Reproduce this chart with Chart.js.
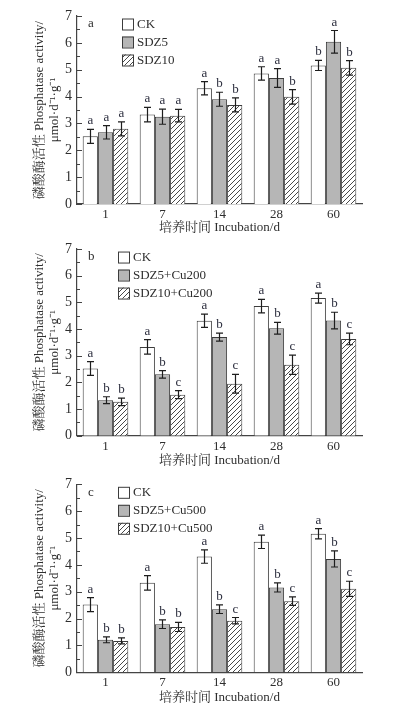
<!DOCTYPE html>
<html><head><meta charset="utf-8">
<script src="https://cdn.jsdelivr.net/npm/chart.js@4.4.1/dist/chart.umd.min.js"></script>
<style>
body{margin:0;background:#fff;width:393px;height:709px;overflow:hidden;position:relative}
.p{position:absolute;left:0;width:393px}
canvas{display:block}
</style>
</head><body>
<div class="p" style="top:0"><canvas id="ca" width="393" height="236"></canvas></div>
<div class="p" style="top:236px"><canvas id="cb" width="393" height="234"></canvas></div>
<div class="p" style="top:470px"><canvas id="cc" width="393" height="239"></canvas></div>
<script>
// ---------- data ----------
const categories = ['1', '7', '14', '28', '60'];
const yTickValues = [0, 1, 2, 3, 4, 5, 6, 7];

const ckValues = [2.52, 3.33, 4.31, 4.86, 5.16];
const ckErrors = [0.26, 0.27, 0.25, 0.25, 0.19];

// panel a
const legendA = ['CK', 'SDZ5', 'SDZ10'];
const ckLettersA = ['a', 'a', 'a', 'a', 'b'];
const sdz5Values = [2.67, 3.25, 3.9, 4.69, 6.04];
const sdz5Errors = [0.25, 0.28, 0.26, 0.35, 0.42];
const sdz5Letters = ['a', 'a', 'b', 'a', 'a'];
const sdz10Values = [2.8, 3.29, 3.69, 3.99, 5.07];
const sdz10Errors = [0.26, 0.23, 0.26, 0.27, 0.27];
const sdz10Letters = ['a', 'a', 'b', 'b', 'b'];

// panel b
const legendB = ['CK', 'SDZ5+Cu200', 'SDZ10+Cu200'];
const ckLettersB = ['a', 'a', 'a', 'a', 'a'];
const sdz5Cu200Values = [1.33, 2.3, 3.7, 4.03, 4.32];
const sdz5Cu200Errors = [0.13, 0.14, 0.15, 0.22, 0.31];
const sdz5Cu200Letters = ['b', 'b', 'b', 'b', 'b'];
const sdz10Cu200Values = [1.27, 1.54, 1.95, 2.66, 3.63];
const sdz10Cu200Errors = [0.14, 0.15, 0.35, 0.36, 0.22];
const sdz10Cu200Letters = ['b', 'c', 'c', 'c', 'c'];

// panel c
const legendC = ['CK', 'SDZ5+Cu500', 'SDZ10+Cu500'];
const ckLettersC = ['a', 'a', 'a', 'a', 'a'];
const sdz5Cu500Values = [1.21, 1.79, 2.35, 3.16, 4.22];
const sdz5Cu500Errors = [0.11, 0.16, 0.16, 0.17, 0.3];
const sdz5Cu500Letters = ['b', 'b', 'b', 'b', 'b'];
const sdz10Cu500Values = [1.17, 1.69, 1.92, 2.65, 3.11];
const sdz10Cu500Errors = [0.11, 0.17, 0.12, 0.16, 0.28];
const sdz10Cu500Letters = ['b', 'b', 'c', 'c', 'c'];

const yTitle = ['磷酸酶活性 Phosphatase activity/', 'μmol·d⁻¹·g⁻¹'];
const xTitle = '培养时间 Incubation/d';

// ---------- styles ----------
const SERIF = '"Liberation Serif", "Noto Serif CJK SC", "Noto Sans CJK SC", serif';
const TXT = '#2e2e2e';
const LETTER = '#2b2d3d';
const EDGE = '#3c3c3c';

function hatch() {
  const c = document.createElement('canvas');
  c.width = 5; c.height = 5;
  const g = c.getContext('2d');
  g.fillStyle = '#fff'; g.fillRect(0, 0, 5, 5);
  g.strokeStyle = '#333'; g.lineWidth = 0.9;
  g.beginPath();
  g.moveTo(-1, 6); g.lineTo(6, -1);
  g.moveTo(-1, 1); g.lineTo(1, -1);
  g.moveTo(4, 6); g.lineTo(6, 4);
  g.stroke();
  return g.createPattern(c, 'repeat');
}

const extras = {
  id: 'extras',
  afterDatasetsDraw(chart, args, opts) {
    const ctx = chart.ctx, y = chart.scales.y, area = chart.chartArea;
    ctx.save();
    // inward ticks
    ctx.strokeStyle = '#444'; ctx.lineWidth = 1;
    for (let i = 0; i < yTickValues.length; i++) {
      const v = yTickValues[i];
      let py = Math.round(y.getPixelForValue(v)) + 0.5;
      ctx.beginPath(); ctx.moveTo(area.left, py); ctx.lineTo(area.left + 5, py); ctx.stroke();
      if (i < yTickValues.length - 1) {
        py = Math.round(y.getPixelForValue((v + yTickValues[i + 1]) / 2)) + 0.5;
        ctx.beginPath(); ctx.moveTo(area.left, py); ctx.lineTo(area.left + 3, py); ctx.stroke();
      }
    }
    // error bars and letters
    chart.data.datasets.forEach((ds, i) => {
      const meta = chart.getDatasetMeta(i);
      meta.data.forEach((bar, j) => {
        const v = ds.data[j], e = ds.errors[j];
        const x = Math.round(bar.x) + 0.5;
        const yt = y.getPixelForValue(v + e), yb = y.getPixelForValue(v - e);
        ctx.strokeStyle = '#1e1e1e'; ctx.lineWidth = 1.2;
        ctx.beginPath();
        ctx.moveTo(x, yt); ctx.lineTo(x, yb);
        ctx.moveTo(x - 3.5, yt); ctx.lineTo(x + 3.5, yt);
        ctx.moveTo(x - 3.5, yb); ctx.lineTo(x + 3.5, yb);
        ctx.stroke();
        ctx.fillStyle = LETTER;
        ctx.font = '13px ' + SERIF;
        ctx.textAlign = 'center'; ctx.textBaseline = 'alphabetic';
        ctx.fillText(ds.letters[j], x, yt - 5);
      });
    });
    // panel label
    ctx.fillStyle = TXT; ctx.font = '13px ' + SERIF;
    ctx.textAlign = 'left'; ctx.textBaseline = 'middle';
    ctx.fillText(opts.panel, area.left + 11, area.top + 8);
    // legend
    chart.data.datasets.forEach((ds, i) => {
      const bx = area.left + opts.legendX, cy = area.top + 8 + i * 18;
      ctx.fillStyle = ds.backgroundColor;
      ctx.fillRect(bx, cy - 5.5, 11, 11);
      ctx.strokeStyle = EDGE; ctx.lineWidth = 1;
      ctx.strokeRect(bx + 0.5, cy - 5.5 + 0.5, 11, 11);
      ctx.fillStyle = TXT; ctx.font = '13px ' + SERIF;
      ctx.textAlign = 'left'; ctx.textBaseline = 'middle';
      ctx.fillText(ds.label, bx + 15, cy + 0.5);
    });
    ctx.restore();
  }
};

function makeChart(id, legend, series, panel, g) {
  const fills = ['#ffffff', '#b6b6b6', hatch()];
  const datasets = series.map((s, i) => ({
    label: legend[i],
    data: s.values,
    errors: s.errors,
    letters: s.letters,
    backgroundColor: fills[i],
    borderColor: EDGE,
    borderWidth: 1,
    categoryPercentage: 0.8,
    barPercentage: 1.0
  }));
  return new Chart(document.getElementById(id), {
    type: 'bar',
    data: { labels: categories, datasets },
    options: {
      responsive: false,
      animation: false,
      events: [],
      layout: { padding: { left: 30, right: 31, top: g.top, bottom: 0 } },
      plugins: {
        legend: { display: false },
        tooltip: { enabled: false },
        extras: { panel: panel, legendX: g.legendX }
      },
      scales: {
        x: {
          grid: { display: false, drawTicks: false },
          border: { display: true, color: '#444', width: 1.2 },
          ticks: { color: TXT, font: { family: SERIF, size: 13, lineHeight: 1.15 }, padding: 3, maxRotation: 0 },
          title: { display: true, text: xTitle, color: TXT, font: { family: SERIF, size: 13, lineHeight: 1.15 }, padding: { top: 0, bottom: g.H - g.titleY - 7.5 } },
          afterFit(scale) { scale.height = g.H - g.bottom; }
        },
        y: {
          min: 0, max: 7,
          afterBuildTicks(scale) { scale.ticks = yTickValues.map(v => ({ value: v })); },
          grid: { display: false, drawTicks: false },
          border: { display: true, color: '#444', width: 1.2 },
          ticks: { color: TXT, font: { family: SERIF, size: 14, lineHeight: 1.15 }, padding: 5 },
          title: { display: true, text: yTitle, color: TXT, font: { family: SERIF, size: 13, lineHeight: 1.15 }, padding: { top: 2.5, bottom: 0 } },
          afterFit(scale) { scale.width = 47; }
        }
      }
    },
    plugins: [extras]
  });
}

makeChart('ca', legendA, [
  { values: ckValues, errors: ckErrors, letters: ckLettersA },
  { values: sdz5Values, errors: sdz5Errors, letters: sdz5Letters },
  { values: sdz10Values, errors: sdz10Errors, letters: sdz10Letters }
], 'a', { H: 236, top: 16, bottom: 204, titleY: 228, legendX: 45 });

makeChart('cb', legendB, [
  { values: ckValues, errors: ckErrors, letters: ckLettersB },
  { values: sdz5Cu200Values, errors: sdz5Cu200Errors, letters: sdz5Cu200Letters },
  { values: sdz10Cu200Values, errors: sdz10Cu200Errors, letters: sdz10Cu200Letters }
], 'b', { H: 234, top: 12.3, bottom: 199.7, titleY: 225, legendX: 41 });

makeChart('cc', legendC, [
  { values: ckValues, errors: ckErrors, letters: ckLettersC },
  { values: sdz5Cu500Values, errors: sdz5Cu500Errors, letters: sdz5Cu500Letters },
  { values: sdz10Cu500Values, errors: sdz10Cu500Errors, letters: sdz10Cu500Letters }
], 'c', { H: 239, top: 14.3, bottom: 202.3, titleY: 228, legendX: 41 });
</script>
</body></html>
